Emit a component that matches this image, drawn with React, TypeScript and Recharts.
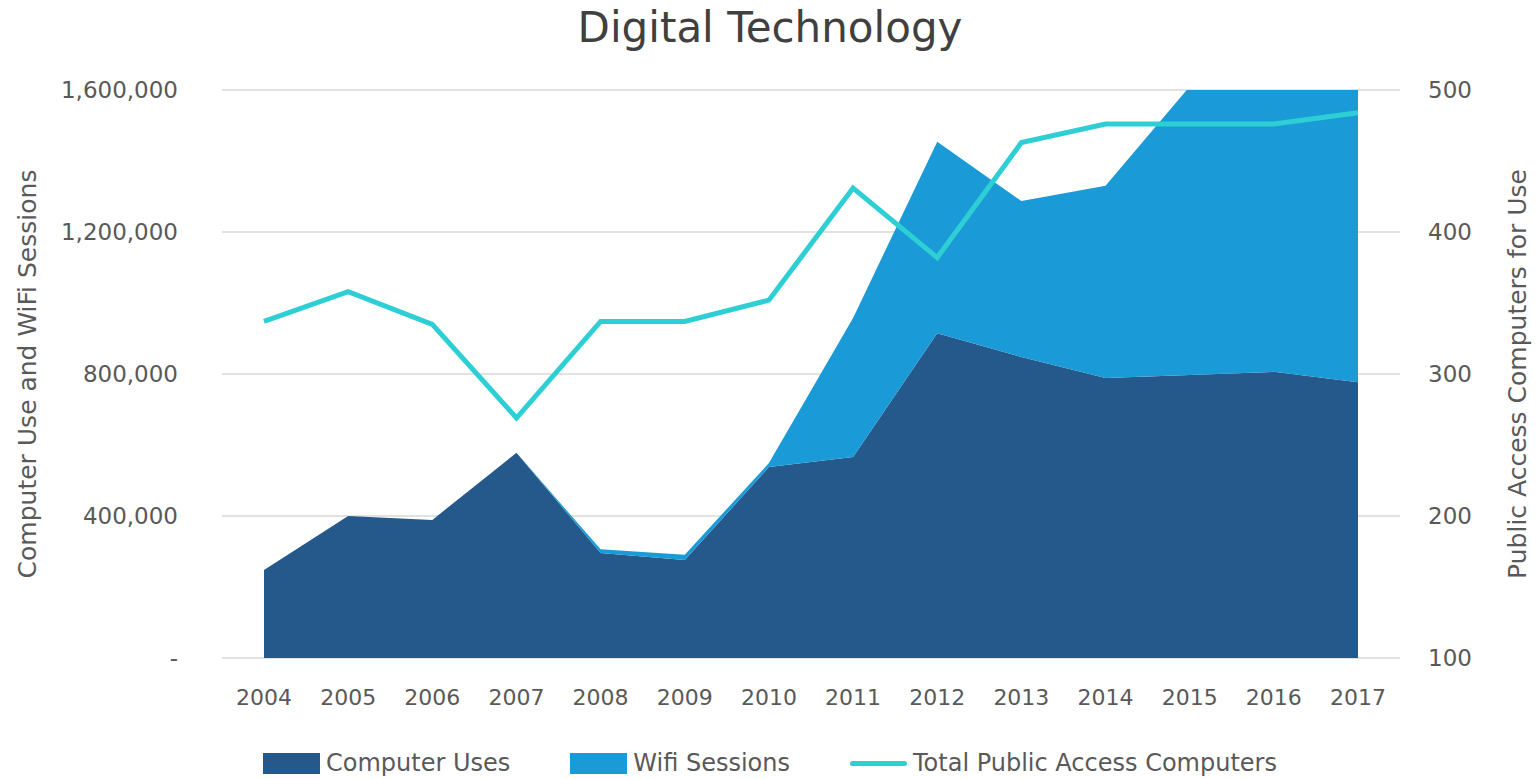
import { Area, CartesianGrid, ComposedChart, Line, XAxis, YAxis } from "recharts";

const YEARS = ["2004", "2005", "2006", "2007", "2008", "2009", "2010", "2011", "2012", "2013", "2014", "2015", "2016", "2017"];
const COMPUTER_USES = [248000, 400000, 389000, 578000, 296000, 276000, 538000, 566000, 915000, 848000, 789000, 797000, 806000, 777000];
const WIFI_SESSIONS = [0, 0, 0, 0, 10000, 15000, 11000, 392000, 539000, 439000, 541000, 813000, 944000, 1003000];
const PUBLIC_COMPUTERS = [337, 358, 335, 269, 337, 337, 352, 431, 382, 463, 476, 476, 476, 484];

const LEFT_TICKS = [0, 400000, 800000, 1200000, 1600000];
const RIGHT_TICKS = [100, 200, 300, 400, 500];

const DARK = "#25598c";
const LIGHT = "#1a9bd7";
const TEAL = "#2ecfd4";
const TEXT = "#595959";
const FONT = "'DejaVu Sans', sans-serif";

const data = YEARS.map((year, i) => ({
  year,
  computerUses: COMPUTER_USES[i],
  wifiSessions: WIFI_SESSIONS[i],
  publicComputers: PUBLIC_COMPUTERS[i],
}));

const formatLeft = (v: number) => (v === 0 ? "-" : v.toLocaleString("en-US"));

function LegendRow() {
  const items = [
    { label: "Computer Uses", color: DARK, kind: "rect" },
    { label: "Wifi Sessions", color: LIGHT, kind: "rect" },
    { label: "Total Public Access Computers", color: TEAL, kind: "line" },
  ];
  return (
    <div
      style={{
        position: "absolute",
        top: 749,
        left: 0,
        width: 1540,
        display: "flex",
        justifyContent: "center",
        gap: 60,
        fontFamily: FONT,
        fontSize: 24,
        color: TEXT,
      }}
    >
      {items.map((item) => (
        <div key={item.label} style={{ display: "flex", alignItems: "center", gap: 6 }}>
          {item.kind === "rect" ? (
            <span style={{ display: "inline-block", width: 57, height: 21, background: item.color }} />
          ) : (
            <span style={{ display: "inline-block", width: 57, height: 5, borderRadius: 3, background: item.color }} />
          )}
          <span>{item.label}</span>
        </div>
      ))}
    </div>
  );
}

export default function App() {
  return (
    <div style={{ position: "absolute", left: 0, top: 0, width: 1540, height: 779, background: "#fff" }}>
      <div
        style={{
          position: "absolute",
          top: 3,
          left: 0,
          width: 1540,
          textAlign: "center",
          fontFamily: FONT,
          fontSize: 42,
          color: "#404040",
        }}
      >
        Digital Technology
      </div>
      <ComposedChart width={1540} height={779} data={data} margin={{ top: 90, right: 0, bottom: 71, left: 0 }}>
        <CartesianGrid vertical={false} stroke="#d9d9d9" strokeWidth={1.5} yAxisId="left" />
        <XAxis
          dataKey="year"
          padding={{ left: 42, right: 42 }}
          axisLine={false}
          tickLine={false}
          tickSize={0}
          tickMargin={31}
          height={50}
          tick={{ fill: TEXT, fontSize: 22, fontFamily: FONT }}
        />
        <YAxis
          yAxisId="left"
          width={222}
          domain={[0, 1600000]}
          ticks={LEFT_TICKS}
          allowDataOverflow
          axisLine={false}
          tickLine={false}
          tickSize={0}
          tickMargin={44}
          tickFormatter={formatLeft}
          tick={{ fill: TEXT, fontSize: 23, fontFamily: FONT }}
          label={{
            value: "Computer Use and  WiFi Sessions",
            angle: -90,
            position: "insideLeft",
            offset: 27,
            style: { fill: TEXT, fontSize: 25, fontFamily: FONT, textAnchor: "middle" },
          }}
        />
        <YAxis
          yAxisId="right"
          orientation="right"
          width={140}
          domain={[100, 500]}
          ticks={RIGHT_TICKS}
          axisLine={false}
          tickLine={false}
          tickSize={0}
          tickMargin={28}
          tick={{ fill: TEXT, fontSize: 23, fontFamily: FONT }}
          label={{
            value: "Public Access Computers for Use",
            angle: -90,
            position: "insideRight",
            offset: 23,
            style: { fill: TEXT, fontSize: 25, fontFamily: FONT, textAnchor: "middle" },
          }}
        />
        <Area
          yAxisId="left"
          type="linear"
          dataKey="computerUses"
          stackId="uses"
          fill={DARK}
          fillOpacity={1}
          stroke="none"
          isAnimationActive={false}
        />
        <Area
          yAxisId="left"
          type="linear"
          dataKey="wifiSessions"
          stackId="uses"
          fill={LIGHT}
          fillOpacity={1}
          stroke="none"
          isAnimationActive={false}
        />
        <Line
          yAxisId="right"
          type="linear"
          dataKey="publicComputers"
          stroke={TEAL}
          strokeWidth={5}
          dot={false}
          isAnimationActive={false}
        />
      </ComposedChart>
      <LegendRow />
    </div>
  );
}
